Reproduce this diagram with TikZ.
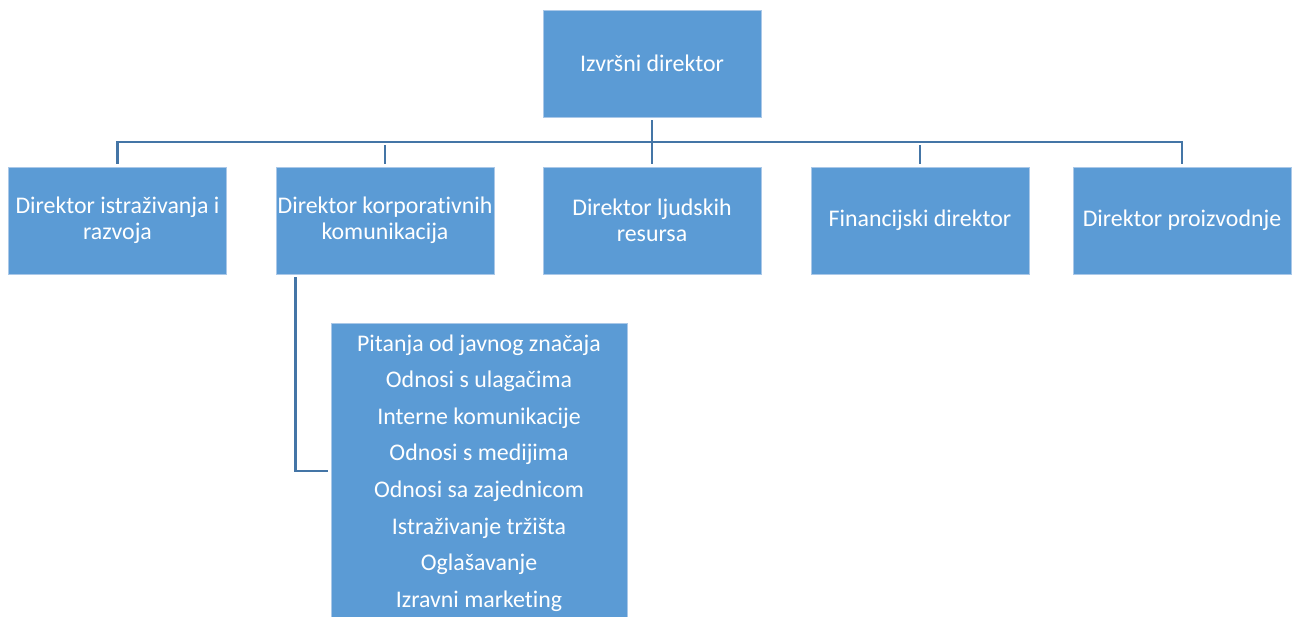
\documentclass[tikz,border=0pt]{standalone}
\usepackage{fontspec}
\setmainfont{Carlito}[Ligatures={NoCommon,NoContextual,NoRequired}]
\definecolor{boxblue}{RGB}{91,155,213}
\definecolor{boxedge}{RGB}{170,200,232}
\definecolor{linkblue}{RGB}{68,117,166}
\begin{document}
\begin{tikzpicture}[x=0.75pt,y=-0.75pt,
  box/.style={rectangle, fill=boxblue, draw=boxedge, line width=0.5pt,
    minimum width=163.5pt, minimum height=80.25pt, inner sep=0.5pt,
    align=center, text=white, font=\fontsize{17.9}{19.5}\selectfont},
  listbox/.style={rectangle, fill=boxblue, draw=boxedge, line width=0.5pt,
    minimum width=222pt, minimum height=225pt, inner sep=0pt,
    align=center, text=white, font=\fontsize{17.9}{27.45}\selectfont},
  conn/.style={draw=linkblue, line width=2.2pt, line join=miter,
    shorten <=2.25pt, shorten >=2.25pt}]
\useasboundingbox (0,0) rectangle (1296,617);
\node[box] (top) at (652,63.5) {Izvršni direktor};
\node[box] (b1) at (117.5,220.5) {Direktor istraživanja i\\razvoja};
\node[box] (b2) at (385,220.5) {Direktor korporativnih\\komunikacija};
\node[box] (b3) at (652,220.5) {Direktor ljudskih\\resursa};
\node[box] (b4) at (920,220.5) {Financijski direktor};
\node[box] (b5) at (1182,220.5) {Direktor proizvodnje};
\node[listbox] (list) at (479,473) {Pitanja od javnog značaja\\Odnosi s ulagačima\\Interne komunikacije\\Odnosi s medijima\\Odnosi sa zajednicom\\Istraživanje tržišta\\Oglašavanje\\Izravni marketing};
\coordinate (bus) at (652,142);
\draw[conn] (top.south) -- (b3.north);
\draw[conn] (b1.north) -- (bus -| b1.north) -- (bus -| b5.north) -- (b5.north);
\draw[conn] (bus -| b2.north) -- (b2.north);
\draw[conn] (bus -| b4.north) -- (b4.north);
\draw[conn] ([xshift=15pt]b2.south west) |- ([yshift=1.5pt]list.west);
\end{tikzpicture}
\end{document}
